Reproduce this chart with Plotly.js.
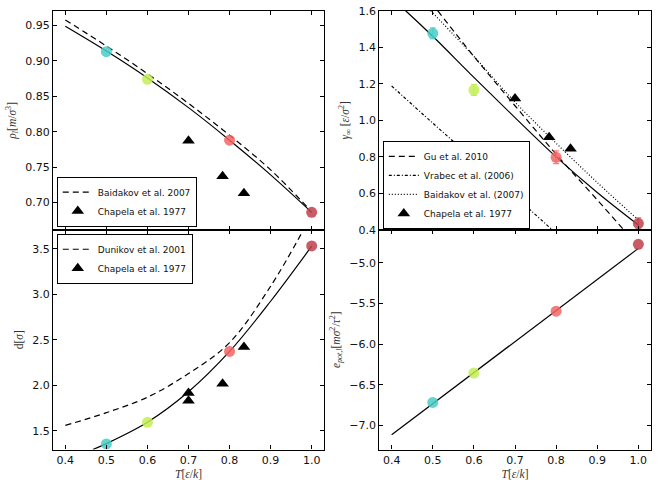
<!DOCTYPE html>
<html>
<head>
<meta charset="utf-8">
<script src="https://cdn.plot.ly/plotly-3.0.1.min.js"></script>
<style>
  html, body { margin: 0; padding: 0; background: #fff; }
  #chart { width: 660px; height: 480px; }
</style>
</head>
<body>
<div id="chart"></div>
<script>
// simulation points (coloured circles)
const tSim = [0.5, 0.6, 0.8, 1.0];
const simColors = ['#48cdc6', '#c2ee55', '#f46464', '#c0414c'];
const rhoSim = [0.913, 0.874, 0.788, 0.686];
const gammaSim = [1.476, 1.166, 0.798, 0.436];
const gammaErr = [0.03, 0.03, 0.035, 0.03];
const dSim = [1.357, 1.594, 2.373, 3.533];
const eSim = [-6.717, -6.355, -5.595, -4.773];

// Chapela et al. 1977
const tChapela = [0.7, 0.783, 0.835];
const rhoChapela = [0.787, 0.737, 0.713];
const gammaChapela = [1.12, 0.907, 0.845];
const tChapelaD = [0.7, 0.7, 0.783, 0.835];
const dChapela = [1.917, 1.832, 2.019, 2.421];

// fitted curves
const tRhoFit = [0.4, 0.5, 0.6, 0.7, 0.8, 0.9, 1.0];
const rhoFit = [0.949, 0.914, 0.876, 0.834, 0.788, 0.739, 0.686];
const tGammaFit = [0.434, 0.5, 0.6, 0.7, 0.8, 0.9, 1.0];
const gammaFit = [1.6, 1.46, 1.235, 1.015, 0.80, 0.605, 0.427];
const tDFit = [0.467, 0.5, 0.6, 0.7, 0.8, 0.9, 1.0];
const dFit = [1.295, 1.36, 1.595, 1.93, 2.373, 2.925, 3.53];
const tEFit = [0.4, 1.0];
const eFit = [-7.115, -4.823];

// literature curves
const tBaidakovRho = [0.4, 0.5, 0.6, 0.7, 0.8, 0.9, 0.995];
const rhoBaidakov = [0.958, 0.921, 0.882, 0.840, 0.795, 0.746, 0.690];
const tGu = [0.512, 0.6, 0.7, 0.8, 0.9, 0.965];
const gammaGu = [1.6, 1.35, 1.08, 0.815, 0.565, 0.4];
const tVrabec = [0.4, 0.5, 0.6, 0.7, 0.791];
const gammaVrabec = [1.188, 0.985, 0.785, 0.585, 0.4];
const tBaidakovG = [0.495, 0.6, 0.7, 0.8, 0.9, 1.0];
const gammaBaidakov = [1.6, 1.35, 1.1, 0.875, 0.66, 0.455];
const tDunikov = [0.4, 0.5, 0.6, 0.7, 0.8, 0.9, 0.98];
const dDunikov = [1.56, 1.70, 1.87, 2.13, 2.47, 3.09, 3.71];

const xTicks = [0.4, 0.5, 0.6, 0.7, 0.8, 0.9, 1.0];

const line = (x, y, ax, dash, name, leg) => ({
    x: x, y: y, xaxis: 'x' + ax, yaxis: 'y' + ax,
    type: 'scatter', mode: 'lines',
    line: {color: '#000', width: 1.2, dash: dash, shape: 'spline'},
    name: name || 'fit', showlegend: !!name, legend: leg || 'legend',
    hoverinfo: 'skip'
});
const tri = (x, y, ax, leg) => ({
    x: x, y: y, xaxis: 'x' + ax, yaxis: 'y' + ax,
    type: 'scatter', mode: 'markers',
    marker: {symbol: 'triangle-up', size: 11, color: '#000'},
    name: 'Chapela et al. 1977', legend: leg
});
const circles = (y, ax, err) => tSim.map((t, i) => ({
    x: [t], y: [y[i]], xaxis: 'x' + ax, yaxis: 'y' + ax,
    type: 'scatter', mode: 'markers',
    marker: {size: 11, color: simColors[i], opacity: 0.85},
    error_y: err ? {type: 'data', array: [err[i]], color: simColors[i], thickness: 1, width: 3} : {visible: false},
    name: 'T=' + t, showlegend: false
}));

const data = [
    line(tRhoFit, rhoFit, ''),
    line(tBaidakovRho, rhoBaidakov, '', '6px,4px', 'Baidakov et al. 2007', 'legend'),
    tri(tChapela, rhoChapela, '', 'legend'),
    ...circles(rhoSim, ''),

    line(tGammaFit, gammaFit, '2'),
    line(tGu, gammaGu, '2', '6px,4px', 'Gu et al. 2010', 'legend2'),
    line(tVrabec, gammaVrabec, '2', '3px,2px,1px,2px', 'Vrabec et al. (2006)', 'legend2'),
    line(tBaidakovG, gammaBaidakov, '2', '1px,2px', 'Baidakov et al. (2007)', 'legend2'),
    tri(tChapela, gammaChapela, '2', 'legend2'),
    ...circles(gammaSim, '2', gammaErr),

    line(tDFit, dFit, '3'),
    line(tDunikov, dDunikov, '3', '6px,4px', 'Dunikov et al. 2001', 'legend3'),
    tri(tChapelaD, dChapela, '3', 'legend3'),
    ...circles(dSim, '3'),

    line(tEFit, eFit, '4'),
    ...circles(eSim, '4')
];

const tickFont = {family: 'DejaVu Sans', size: 11, color: '#111'};
const titleFont = {family: 'Liberation Serif', size: 11.5, color: '#333'};
const frame = {
    showline: true, linecolor: '#000', linewidth: 1.2, mirror: 'ticks',
    ticks: 'inside', ticklen: 4, tickcolor: '#000', tickwidth: 1,
    showgrid: false, zeroline: false, tickfont: tickFont
};
const xAx = (dom, anchor, labels) => {
    const ax = Object.assign({}, frame, {
        domain: dom, anchor: anchor, range: [0.37, 1.03],
        tickvals: xTicks, tickformat: '.1f', showticklabels: labels
    });
    if (labels) ax.title = {text: '<i>T</i>[<i>ε</i>/<i>k</i>]', font: titleFont, standoff: 4};
    return ax;
};
const yAx = (dom, anchor, range, dtick, fmt, title) => Object.assign({}, frame, {
    domain: dom, anchor: anchor, range: range, dtick: dtick, tickformat: fmt,
    title: {text: title, font: titleFont, standoff: 6}
});

const colLeft = [0.0803, 0.4909];
const colRight = [0.5747, 0.9859];
const rowTop = [0.5208, 0.9777];
const rowBottom = [0.0635, 0.5208];
const legStyle = {
    bgcolor: '#fff', bordercolor: '#000', borderwidth: 1,
    font: {family: 'DejaVu Sans', size: 9, color: '#111'},
    itemwidth: 30, tracegroupgap: 0
};

const layout = {
    width: 660, height: 480,
    margin: {l: 0, r: 0, t: 0, b: 0},
    paper_bgcolor: '#fff', plot_bgcolor: '#fff',
    xaxis: xAx(colLeft, 'y', false),
    yaxis: yAx(rowTop, 'x', [0.661, 0.971], 0.05, '.2f', '<i>ρ<sub>l</sub></i>[<i>m</i>/<i>σ</i><sup>3</sup>]'),
    xaxis2: xAx(colRight, 'y2', false),
    yaxis2: yAx(rowTop, 'x2', [0.4, 1.6], 0.2, '.1f', '<i>γ<sub>∞</sub></i> [<i>ε</i>/<i>σ</i><sup>2</sup>]'),
    xaxis3: xAx(colLeft, 'y3', true),
    yaxis3: yAx(rowBottom, 'x3', [1.295, 3.708], 0.5, '.1f', 'd[<i>σ</i>]'),
    xaxis4: xAx(colRight, 'y4', true),
    yaxis4: yAx(rowBottom, 'x4', [-7.296, -4.597], 0.5, '.1f', '<i>e<sub>pot,l</sub></i>[<i>mσ</i><sup>2</sup>/<i>τ</i><sup>2</sup>]'),
    legend: Object.assign({}, legStyle, {x: 0.086, y: 0.528, xanchor: 'left', yanchor: 'bottom'}),
    legend2: Object.assign({}, legStyle, {x: 0.58, y: 0.523, xanchor: 'left', yanchor: 'bottom'}),
    legend3: Object.assign({}, legStyle, {x: 0.086, y: 0.513, xanchor: 'left', yanchor: 'top'}),
    showlegend: true
};

Plotly.newPlot('chart', data, layout, {displayModeBar: false, responsive: false});
</script>
</body>
</html>
